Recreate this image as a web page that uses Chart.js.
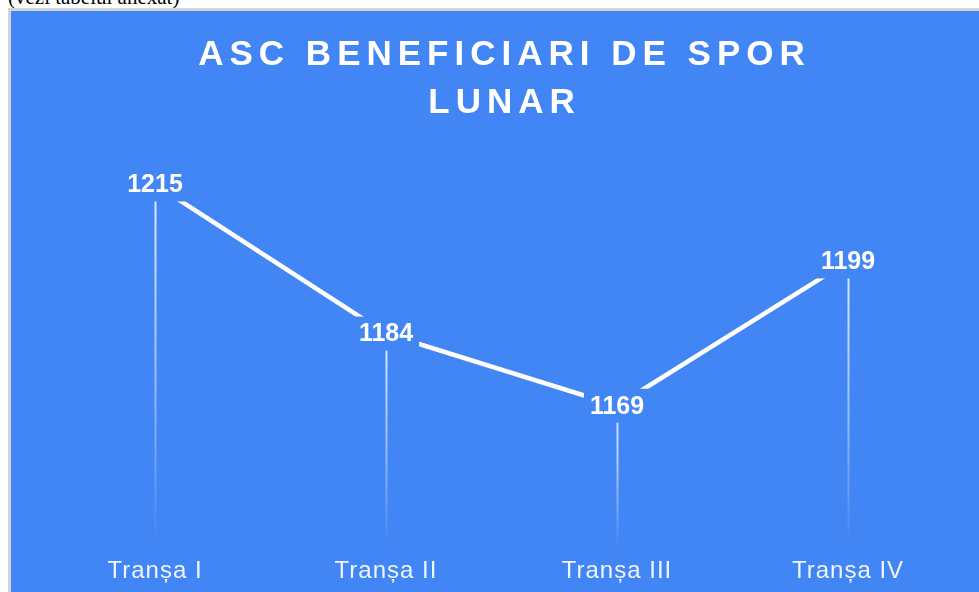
<!DOCTYPE html>
<html>
<head>
<meta charset="utf-8">
<script src="https://cdn.jsdelivr.net/npm/chart.js@4.4.1/dist/chart.umd.min.js"></script>
<style>
  html, body { margin: 0; padding: 0; background: #fff; overflow: hidden; width: 979px; height: 592px; }
  #note { position: absolute; left: 8px; top: -15px; font: 21px "Liberation Serif", serif; color: #000; white-space: nowrap; }
  #box { position: absolute; left: 8px; top: 8px; width: 987px; height: 620px; border: 3px solid #d3d3d3; background: #4285f4; }
  #line_canvas { position: absolute; left: 0; top: 0; }
</style>
</head>
<body>
<div id="note">(vezi tabelul anexat)</div>
<div id="box"><canvas id="line_canvas" width="981" height="598"></canvas></div>
<script>
var categories = ["Tranșa I", "Tranșa II", "Tranșa III", "Tranșa IV"];
var beneficiari = [1215, 1184, 1169, 1199];
var titleLines = ["ASC BENEFICIARI DE SPOR", "LUNAR"];

var BLUE = "#4285f4";

// title drawn by hand, canvas letterSpacing is not an option of the title plugin
var titlePlugin = {
    id: "bigTitle",
    beforeDraw: function(chart) {
        var ctx = chart.ctx;
        ctx.save();
        ctx.letterSpacing = "6px";
        ctx.font = "bold 35px 'Liberation Sans', Arial, sans-serif";
        ctx.fillStyle = "#ffffff";
        ctx.textAlign = "center";
        ctx.textBaseline = "alphabetic";
        var cx = (chart.chartArea.left + chart.chartArea.right) / 2 + 3;
        ctx.fillText(titleLines[0], cx, 54);
        ctx.fillText(titleLines[1], cx, 102);
        ctx.restore();
        // spacing for the tick labels
        ctx.letterSpacing = "1px";
    }
};

// faded drop lines under each point
var dropLines = {
    id: "dropLines",
    beforeDatasetsDraw: function(chart) {
        var ctx = chart.ctx;
        var meta = chart.getDatasetMeta(0);
        var bottom = chart.chartArea.bottom + 2;
        ctx.save();
        meta.data.forEach(function(pt) {
            var g = ctx.createLinearGradient(0, pt.y, 0, bottom);
            g.addColorStop(0, "rgba(255,255,255,0.85)");
            g.addColorStop(0.55, "rgba(255,255,255,0.45)");
            g.addColorStop(1, "rgba(255,255,255,0)");
            ctx.strokeStyle = g;
            ctx.lineWidth = 2;
            ctx.beginPath();
            ctx.moveTo(Math.round(pt.x) + 0.5, pt.y);
            ctx.lineTo(Math.round(pt.x) + 0.5, bottom);
            ctx.stroke();
        });
        ctx.restore();
    }
};

// value labels on a blue box that hides the line
var valueLabels = {
    id: "valueLabels",
    afterDatasetsDraw: function(chart) {
        var ctx = chart.ctx;
        var meta = chart.getDatasetMeta(0);
        ctx.save();
        ctx.letterSpacing = "0px";
        ctx.font = "bold 25px 'Liberation Sans', Arial, sans-serif";
        ctx.textAlign = "center";
        ctx.textBaseline = "middle";
        meta.data.forEach(function(pt, i) {
            var txt = String(beneficiari[i]);
            var w = ctx.measureText(txt).width;
            ctx.fillStyle = BLUE;
            ctx.fillRect(pt.x - w / 2 - 6, pt.y - 17, w + 12, 34);
            ctx.fillStyle = "#ffffff";
            ctx.fillText(txt, pt.x, pt.y + 1);
        });
        ctx.restore();
    }
};

var ctx = document.getElementById("line_canvas").getContext("2d");
var chart = new Chart(ctx, {
    type: "line",
    data: {
        labels: categories,
        datasets: [{
            label: "ASC beneficiari",
            data: beneficiari,
            borderColor: "#ffffff",
            borderWidth: 4.5,
            pointRadius: 0,
            tension: 0,
            fill: false
        }]
    },
    options: {
        responsive: false,
        devicePixelRatio: 1,
        animation: false,
        layout: { padding: { top: 135, left: 28.5, right: 28.5, bottom: 19 } },
        plugins: {
            legend: { display: false },
            tooltip: { enabled: false },
            title: { display: false }
        },
        scales: {
            x: {
                offset: true,
                grid: { display: false },
                border: { display: false },
                ticks: {
                    color: "rgba(255,255,255,0.92)",
                    padding: 4,
                    font: { family: "'Liberation Sans', Arial, sans-serif", size: 24 }
                }
            },
            y: {
                display: false,
                min: 1140,
                max: 1223
            }
        }
    },
    plugins: [titlePlugin, dropLines, valueLabels]
});
</script>
</body>
</html>
